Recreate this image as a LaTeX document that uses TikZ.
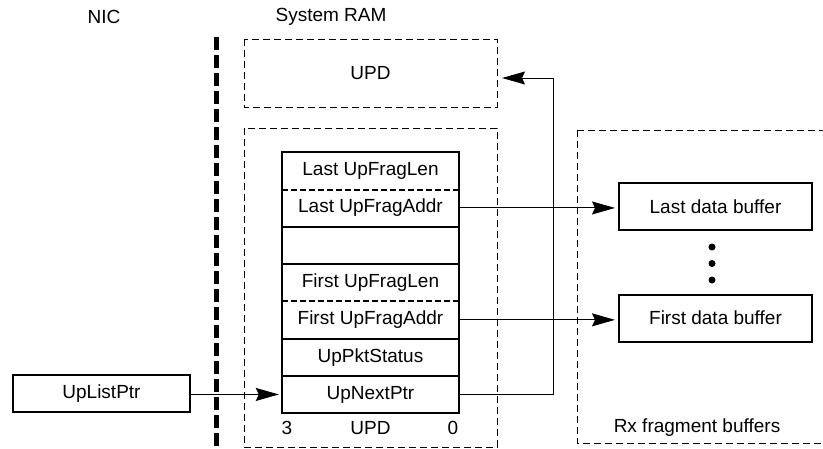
\documentclass[tikz,border=0pt]{standalone}
\usepackage{fontspec}
\setmainfont{Liberation Sans}
\usetikzlibrary{arrows.meta}
\tikzset{
  lbl/.style={font=\fontsize{19}{22}\selectfont, inner sep=0pt},
  field/.style={lbl, minimum width=177pt, minimum height=37.3pt},
  solidbox/.style={draw, line width=2pt, lbl},
  region/.style={draw, line width=1pt, dash pattern=on 7pt off 4pt},
  link/.style={line width=1pt, -{Stealth[length=23pt, width=13pt, inset=3pt]}, shorten >=3pt},
  barrier/.style={line width=5pt, dash pattern=on 13pt off 5pt},
  sep/.style={line width=2pt, dash pattern=on 6pt off 3pt},
}
\begin{document}
\begin{tikzpicture}[x=1pt, y=-1pt]
\useasboundingbox (0,0) rectangle (823,448);

% column headings
\node[lbl] (nic) at (104,17) {NIC};
\node[lbl] (ram) at (331,17) {System RAM};

% NIC / host boundary
\draw[barrier] (216,37) -- (216,452);

% dashed regions
\draw[region] (244,39) rectangle (497,107);
\node[lbl] (upd) at (370.5,73) {UPD};
\coordinate (updR) at (497,78);
\draw[region] (244,128) rectangle (497,447);
\draw[region] (577,130) -- (577,443) -- (830,443);
\draw[region] (577,130) -- (830,130);
\node[lbl] (rx) at (697,428) {Rx fragment buffers};

% upload packet descriptor fields
\foreach \name/\txt [count=\i from 0] in
  {lastlen/Last UpFragLen, lastaddr/Last UpFragAddr, empty/{},
   firstlen/First UpFragLen, firstaddr/First UpFragAddr,
   status/UpPktStatus, nextptr/UpNextPtr}
  \node[field] (\name) at (370.5,{152+37.3*(\i+0.5)}) {\txt};

\draw[line width=2pt] (lastlen.north west) rectangle (nextptr.south east);
\draw[sep] (lastlen.south west) -- (lastlen.south east);
\draw[line width=2pt] (lastaddr.south west) -- (lastaddr.south east);
\draw[line width=2pt] (empty.south west) -- (empty.south east);
\draw[sep] (firstlen.south west) -- (firstlen.south east);
\draw[line width=2pt] (firstaddr.south west) -- (firstaddr.south east);
\draw[line width=2pt] (status.south west) -- (status.south east);

\node[lbl] (bit3) at (287,428) {3};
\node[lbl] (updname) at (370.5,428) {UPD};
\node[lbl] (bit0) at (453,428) {0};

% data buffers
\node[solidbox, minimum width=193pt, minimum height=47pt] (lastbuf) at (715.5,206.5) {Last data buffer};
\node[solidbox, minimum width=193pt, minimum height=47pt] (firstbuf) at (715.5,318) {First data buffer};
\foreach \yy in {247,263.5,280}
  \fill (712,\yy) circle (3.5pt);

% NIC register
\node[solidbox, minimum width=177pt, minimum height=37pt] (listptr) at (101.5,393.5) {UpListPtr};

% pointers
\draw[link] (listptr.east |- nextptr) -- (nextptr.west);
\draw[link] (lastaddr.east) -- (lastbuf.west |- lastaddr);
\draw[link] (firstaddr.east) -- (firstbuf.west |- firstaddr);
\coordinate (turn) at (553,78);
\draw[link, shorten >=5pt] (nextptr.east) -| (turn) -- (updR);
\end{tikzpicture}
\end{document}
